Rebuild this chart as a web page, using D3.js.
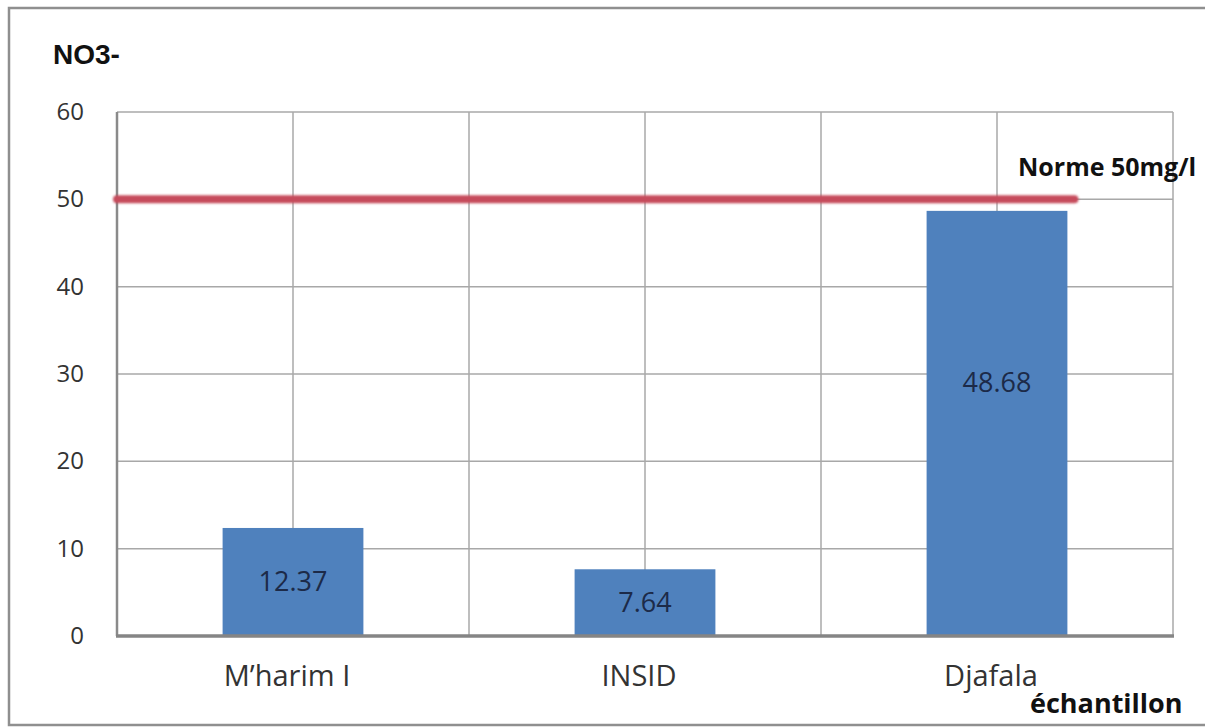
<!DOCTYPE html>
<html>
<head>
<meta charset="utf-8">
<script src="https://cdn.jsdelivr.net/npm/d3@7"></script>
<style>
  html, body { margin: 0; padding: 0; background: #fff; }
  svg { display: block; }
</style>
</head>
<body>
<svg id="chart" width="1205" height="727"></svg>
<script>
// Nitrate (NO3-) concentration per sampling site
const categories = ["M\u2019harim I", "INSID", "Djafala"];
const values = [12.37, 7.64, 48.68];
const valueLabels = ["12.37", "7.64", "48.68"];
const yTicks = [0, 10, 20, 30, 40, 50, 60];
const normValue = 50;
const normLabel = "Norme 50mg/l";

const svg = d3.select("#chart");
const W = 1205, H = 727;
const plot = { left: 117, right: 1173, top: 112, bottom: 636 };

const x = d3.scaleBand().domain(categories).range([plot.left, plot.right]).paddingInner(0).paddingOuter(0);
const y = d3.scaleLinear().domain([0, 60]).range([plot.bottom, plot.top]);

// outer frame (open on the right)
svg.append("path")
  .attr("d", `M${W} 8 H9 V725 H${W}`)
  .attr("fill", "none").attr("stroke", "#8f8f8f").attr("stroke-width", 2.5);

const font = "'Open Sans', sans-serif";

// horizontal gridlines
svg.append("g").selectAll("line").data(yTicks.filter(d => d > 0)).join("line")
  .attr("x1", plot.left).attr("x2", plot.right)
  .attr("y1", d => y(d)).attr("y2", d => y(d))
  .attr("stroke", "#a8a8a8").attr("stroke-width", 1.5);

// vertical gridlines at band centres and band edges
const vLines = [];
categories.forEach(c => { vLines.push(x(c) + x.bandwidth() / 2); vLines.push(x(c) + x.bandwidth()); });
svg.append("g").selectAll("line").data(vLines).join("line")
  .attr("x1", d => d).attr("x2", d => d)
  .attr("y1", plot.top).attr("y2", plot.bottom)
  .attr("stroke", "#a8a8a8").attr("stroke-width", 1.5);

// left axis line
svg.append("line")
  .attr("x1", plot.left).attr("x2", plot.left)
  .attr("y1", plot.top).attr("y2", plot.bottom)
  .attr("stroke", "#8a8a8a").attr("stroke-width", 2.5);

// y tick labels
svg.append("g").selectAll("text").data(yTicks).join("text")
  .attr("x", 84).attr("y", d => y(d) + 8)
  .attr("text-anchor", "end")
  .attr("font-family", font).attr("font-size", 24)
  .attr("fill", "#333")
  .text(d => d);

// bars
const barW = x.bandwidth() * 0.4;
svg.append("g").selectAll("rect").data(values).join("rect")
  .attr("x", (d, i) => x(categories[i]) + x.bandwidth() / 2 - barW / 2)
  .attr("y", d => y(d))
  .attr("width", barW)
  .attr("height", d => y(0) - y(d))
  .attr("fill", "#4f81bd");

// value labels inside bars (the tall bar's label sits a little above centre)
const labelShift = [0, 0, -40];
svg.append("g").selectAll("text").data(values).join("text")
  .attr("x", (d, i) => x(categories[i]) + x.bandwidth() / 2)
  .attr("y", (d, i) => (y(d) + y(0)) / 2 + 9 + labelShift[i])
  .attr("text-anchor", "middle")
  .attr("font-family", font).attr("font-size", 27)
  .attr("fill", "#1c2a48")
  .text((d, i) => valueLabels[i]);

// bottom axis line
svg.append("line")
  .attr("x1", plot.left - 1).attr("x2", plot.right + 1)
  .attr("y1", plot.bottom).attr("y2", plot.bottom)
  .attr("stroke", "#858585").attr("stroke-width", 3.5);

// category labels
svg.append("g").selectAll("text").data(categories).join("text")
  .attr("x", d => x(d) + x.bandwidth() / 2 - 6)
  .attr("y", 686)
  .attr("text-anchor", "middle")
  .attr("font-family", font).attr("font-size", 29)
  .attr("fill", "#333")
  .text(d => d);

// norm reference line
const defs = svg.append("defs");
defs.append("filter").attr("id", "soft")
  .attr("filterUnits", "userSpaceOnUse")
  .attr("x", 0).attr("y", 0).attr("width", W).attr("height", H)
  .append("feGaussianBlur").attr("stdDeviation", 0.8);
const normEnd = x(categories[2]) + x.bandwidth() * 0.72;
svg.append("line")
  .attr("x1", plot.left).attr("x2", normEnd)
  .attr("y1", y(normValue)).attr("y2", y(normValue))
  .attr("stroke", "#c64c5c").attr("stroke-width", 8)
  .attr("stroke-linecap", "round")
  .attr("filter", "url(#soft)");

// norm label
svg.append("text")
  .attr("x", 1018).attr("y", 176)
  .attr("font-family", font).attr("font-weight", "bold").attr("font-size", 25)
  .attr("fill", "#111")
  .text(normLabel);

// axis titles
svg.append("text")
  .attr("x", 53).attr("y", 64)
  .attr("font-family", "'Liberation Sans', Arial, sans-serif").attr("font-weight", "bold").attr("font-size", 28)
  .attr("fill", "#111")
  .text("NO3-");

svg.append("text")
  .attr("x", 1030).attr("y", 713)
  .attr("font-family", font).attr("font-weight", "bold").attr("font-size", 27)
  .attr("fill", "#111")
  .text("échantillon");
</script>
</body>
</html>
